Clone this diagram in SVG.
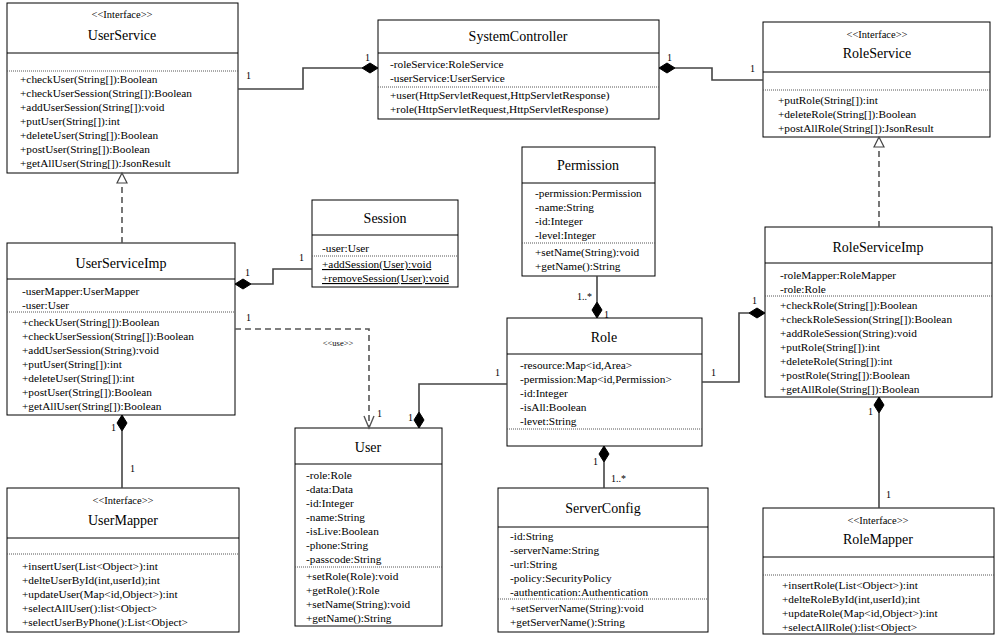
<svg xmlns="http://www.w3.org/2000/svg" width="1000" height="640" viewBox="0 0 1000 640">
<style>
.box{fill:#fff;stroke:#000;stroke-width:1}
.sep{stroke:#000;stroke-width:1}
.dot{stroke:#555;stroke-width:1;stroke-dasharray:1,1}
.t{font-family:"Liberation Serif","Times New Roman",serif;font-size:11.3px;fill:#000}
.n{font-family:"Liberation Serif","Times New Roman",serif;font-size:14px;fill:#000;text-anchor:middle}
.st{font-family:"Liberation Serif","Times New Roman",serif;font-size:10.5px;fill:#000;text-anchor:middle}
.m{font-family:"Liberation Serif","Times New Roman",serif;font-size:10px;fill:#000}
.c{fill:none;stroke:#444;stroke-width:1.6}
.d{fill:none;stroke:#555;stroke-width:1.6;stroke-dasharray:6,4}
.dia{fill:#000;stroke:#000;stroke-width:1}
.tri{fill:#fff;stroke:#444;stroke-width:1.2}
.u{text-decoration:underline}
</style>
<rect width="1000" height="640" fill="#fff"/>

<g id="UserService">
<rect class="box" x="7" y="3" width="231" height="170"/>
<text class="st" x="122" y="18">&lt;&lt;Interface&gt;&gt;</text>
<text class="n" x="122" y="40">UserService</text>
<line class="sep" x1="7" y1="53" x2="238" y2="53"/>
<line class="dot" x1="7" y1="71" x2="238" y2="71"/>
<text class="t" x="20" y="83">+checkUser(String[]):Boolean</text>
<text class="t" x="20" y="97">+checkUserSession(String[]):Boolean</text>
<text class="t" x="20" y="111">+addUserSession(String[]):void</text>
<text class="t" x="20" y="125">+putUser(String[]):int</text>
<text class="t" x="20" y="139">+deleteUser(String[]):Boolean</text>
<text class="t" x="20" y="153">+postUser(String[]):Boolean</text>
<text class="t" x="20" y="167">+getAllUser(String[]):JsonResult</text>
</g>

<g id="SystemController">
<rect class="box" x="378" y="20" width="281" height="99"/>
<text class="n" x="518" y="41">SystemController</text>
<line class="sep" x1="378" y1="53" x2="659" y2="53"/>
<text class="t" x="390" y="68">-roleService:RoleService</text>
<text class="t" x="390" y="82">-userService:UserService</text>
<line class="dot" x1="378" y1="87" x2="659" y2="87"/>
<text class="t" x="390" y="99">+user(HttpServletRequest,HttpServletResponse)</text>
<text class="t" x="390" y="113">+role(HttpServletRequest,HttpServletResponse)</text>
</g>

<g id="RoleService">
<rect class="box" x="763" y="22" width="227" height="115"/>
<text class="st" x="877" y="38">&lt;&lt;Interface&gt;&gt;</text>
<text class="n" x="877" y="58">RoleService</text>
<line class="sep" x1="763" y1="72" x2="990" y2="72"/>
<line class="dot" x1="763" y1="90" x2="990" y2="90"/>
<text class="t" x="778" y="104">+putRole(String[]):int</text>
<text class="t" x="778" y="118">+deleteRole(String[]):Boolean</text>
<text class="t" x="778" y="132">+postAllRole(String[]):JsonResult</text>
</g>

<g id="UserServiceImp">
<rect class="box" x="7" y="243" width="228" height="172"/>
<text class="n" x="121" y="268">UserServiceImp</text>
<line class="sep" x1="7" y1="279" x2="235" y2="279"/>
<text class="t" x="22" y="295">-userMapper:UserMapper</text>
<text class="t" x="22" y="309">-user:User</text>
<line class="dot" x1="7" y1="312" x2="235" y2="312"/>
<text class="t" x="22" y="326">+checkUser(String[]):Boolean</text>
<text class="t" x="22" y="340">+checkUserSession(String[]):Boolean</text>
<text class="t" x="22" y="354">+addUserSession(String):void</text>
<text class="t" x="22" y="368">+putUser(String[]):int</text>
<text class="t" x="22" y="382">+deleteUser(String[]):int</text>
<text class="t" x="22" y="396">+postUser(String[]):Boolean</text>
<text class="t" x="22" y="410">+getAllUser(String[]):Boolean</text>
</g>

<g id="Session">
<rect class="box" x="312" y="200" width="146" height="87"/>
<text class="n" x="385" y="223">Session</text>
<line class="sep" x1="312" y1="235" x2="458" y2="235"/>
<text class="t" x="322" y="252">-user:User</text>
<line class="dot" x1="312" y1="256" x2="458" y2="256"/>
<text class="t u" x="322" y="268">+addSession(User):void</text>
<text class="t u" x="322" y="282">+removeSession(User):void</text>
</g>

<g id="Permission">
<rect class="box" x="522" y="147" width="133" height="129"/>
<text class="n" x="588" y="170">Permission</text>
<line class="sep" x1="522" y1="183" x2="655" y2="183"/>
<text class="t" x="535" y="197">-permission:Permission</text>
<text class="t" x="535" y="211">-name:String</text>
<text class="t" x="535" y="225">-id:Integer</text>
<text class="t" x="535" y="239">-level:Integer</text>
<line class="dot" x1="522" y1="243" x2="655" y2="243"/>
<text class="t" x="535" y="256">+setName(String):void</text>
<text class="t" x="535" y="270">+getName():String</text>
</g>

<g id="Role">
<rect class="box" x="507" y="318" width="195" height="128"/>
<text class="n" x="604" y="342">Role</text>
<line class="sep" x1="507" y1="354" x2="702" y2="354"/>
<text class="t" x="520" y="369">-resource:Map&lt;id,Area&gt;</text>
<text class="t" x="520" y="383">-permission:Map&lt;id,Permission&gt;</text>
<text class="t" x="520" y="397">-id:Integer</text>
<text class="t" x="520" y="411">-isAll:Boolean</text>
<text class="t" x="520" y="425">-levet:String</text>
<line class="dot" x1="507" y1="429" x2="702" y2="429"/>
</g>

<g id="RoleServiceImp">
<rect class="box" x="765" y="227" width="227" height="170"/>
<text class="n" x="878" y="252">RoleServiceImp</text>
<line class="sep" x1="765" y1="263" x2="992" y2="263"/>
<text class="t" x="780" y="279">-roleMapper:RoleMapper</text>
<text class="t" x="780" y="293">-role:Role</text>
<line class="dot" x1="765" y1="296" x2="992" y2="296"/>
<text class="t" x="780" y="309">+checkRole(String[]):Boolean</text>
<text class="t" x="780" y="323">+checkRoleSession(String[]):Boolean</text>
<text class="t" x="780" y="337">+addRoleSession(String):void</text>
<text class="t" x="780" y="351">+putRole(String[]):int</text>
<text class="t" x="780" y="365">+deleteRole(String[]):int</text>
<text class="t" x="780" y="379">+postRole(String[]):Boolean</text>
<text class="t" x="780" y="393">+getAllRole(String[]):Boolean</text>
</g>

<g id="User">
<rect class="box" x="295" y="428" width="147" height="198"/>
<text class="n" x="368" y="452">User</text>
<line class="sep" x1="295" y1="464" x2="442" y2="464"/>
<text class="t" x="306" y="479">-role:Role</text>
<text class="t" x="306" y="493">-data:Data</text>
<text class="t" x="306" y="507">-id:Integer</text>
<text class="t" x="306" y="521">-name:String</text>
<text class="t" x="306" y="535">-isLive:Boolean</text>
<text class="t" x="306" y="549">-phone:String</text>
<text class="t" x="306" y="563">-passcode:String</text>
<line class="dot" x1="295" y1="567" x2="442" y2="567"/>
<text class="t" x="306" y="580">+setRole(Role):void</text>
<text class="t" x="306" y="594">+getRole():Role</text>
<text class="t" x="306" y="608">+setName(String):void</text>
<text class="t" x="306" y="622">+getName():String</text>
</g>

<g id="ServerConfig">
<rect class="box" x="498" y="488" width="210" height="144"/>
<text class="n" x="603" y="513">ServerConfig</text>
<line class="sep" x1="498" y1="527" x2="708" y2="527"/>
<text class="t" x="510" y="540">-id:String</text>
<text class="t" x="510" y="554">-serverName:String</text>
<text class="t" x="510" y="568">-url:String</text>
<text class="t" x="510" y="582">-policy:SecurityPolicy</text>
<text class="t" x="510" y="596">-authentication:Authentication</text>
<line class="dot" x1="498" y1="599" x2="708" y2="599"/>
<text class="t" x="510" y="612">+setServerName(String):void</text>
<text class="t" x="510" y="626">+getServerName():String</text>
</g>

<g id="UserMapper">
<rect class="box" x="7" y="488" width="232" height="144"/>
<text class="st" x="123" y="504">&lt;&lt;Interface&gt;&gt;</text>
<text class="n" x="123" y="525">UserMapper</text>
<line class="sep" x1="7" y1="538" x2="239" y2="538"/>
<line class="dot" x1="7" y1="554" x2="239" y2="554"/>
<text class="t" x="22" y="570">+insertUser(List&lt;Object&gt;):int</text>
<text class="t" x="22" y="584">+delteUserById(int,userId);int</text>
<text class="t" x="22" y="598">+updateUser(Map&lt;id,Object&gt;):int</text>
<text class="t" x="22" y="612">+selectAllUser():list&lt;Object&gt;</text>
<text class="t" x="22" y="626">+selectUserByPhone():List&lt;Object&gt;</text>
</g>

<g id="RoleMapper">
<rect class="box" x="763" y="508" width="231" height="126"/>
<text class="st" x="878" y="524">&lt;&lt;Interface&gt;&gt;</text>
<text class="n" x="878" y="544">RoleMapper</text>
<line class="sep" x1="763" y1="557" x2="994" y2="557"/>
<line class="dot" x1="763" y1="575" x2="994" y2="575"/>
<text class="t" x="782" y="589">+insertRole(List&lt;Object&gt;):int</text>
<text class="t" x="782" y="603">+delteRoleById(int,userId);int</text>
<text class="t" x="782" y="617">+updateRole(Map&lt;id,Object&gt;):int</text>
<text class="t" x="782" y="631">+selectAllRole():list&lt;Object&gt;</text>
</g>

<g id="connectors">
<polyline class="c" points="238,89 303,89 303,68 362,68"/>
<path class="dia" d="M378,68 L370,63 L362,68 L370,73 Z"/>
<text class="m" x="246" y="79">1</text>
<text class="m" x="365" y="61">1</text>

<polyline class="c" points="675,68 712,68 712,80 763,80"/>
<path class="dia" d="M659,68 L667,63 L675,68 L667,73 Z"/>
<text class="m" x="667" y="61">1</text>
<text class="m" x="750" y="72">1</text>

<line class="d" x1="122" y1="243" x2="122" y2="183"/>
<path class="tri" d="M122,173 L117,183 L127,183 Z"/>

<line class="d" x1="879" y1="227" x2="879" y2="147"/>
<path class="tri" d="M879,137 L874,147 L884,147 Z"/>

<polyline class="c" points="251,284 273,284 273,269 312,269"/>
<path class="dia" d="M235,284 L243,279 L251,284 L243,289 Z"/>
<text class="m" x="245" y="276">1</text>
<text class="m" x="299" y="261">1</text>

<polyline class="d" points="235,329 369,329 369,427"/>
<polyline fill="none" stroke="#555" stroke-width="1.4" points="364,416 369,428 374,416"/>
<text class="m" x="246" y="321">1</text>
<text x="338" y="346" font-family="Liberation Serif, serif" font-size="8.5" text-anchor="middle">&lt;&lt;use&gt;&gt;</text>
<text class="m" x="377" y="417">1</text>

<polyline class="c" points="419,412 419,384 507,384"/>
<path class="dia" d="M419,428 L414,420 L419,412 L424,420 Z"/>
<text class="m" x="495" y="376">1</text>
<text class="m" x="408" y="421">1</text>

<polyline class="c" points="702,382 739,382 739,313 749,313"/>
<path class="dia" d="M765,313 L757,308 L749,313 L757,318 Z"/>
<text class="m" x="711" y="376">1</text>
<text class="m" x="752" y="304">1</text>

<line class="c" x1="597" y1="276" x2="597" y2="302"/>
<path class="dia" d="M597,318 L592,310 L597,302 L602,310 Z"/>
<text class="m" x="577" y="300">1..*</text>
<text class="m" x="604" y="318">1</text>

<line class="c" x1="604" y1="462" x2="604" y2="488"/>
<path class="dia" d="M604,446 L609,454 L604,462 L599,454 Z"/>
<text class="m" x="593" y="465">1</text>
<text class="m" x="611" y="482">1..*</text>

<line class="c" x1="122" y1="431" x2="122" y2="488"/>
<path class="dia" d="M122,415 L127,423 L122,431 L117,423 Z"/>
<text class="m" x="111" y="431">1</text>
<text class="m" x="130" y="472">1</text>

<line class="c" x1="879" y1="413" x2="879" y2="508"/>
<path class="dia" d="M879,397 L884,405 L879,413 L874,405 Z"/>
<text class="m" x="868" y="415">1</text>
<text class="m" x="886" y="498">1</text>
</g>
</svg>
